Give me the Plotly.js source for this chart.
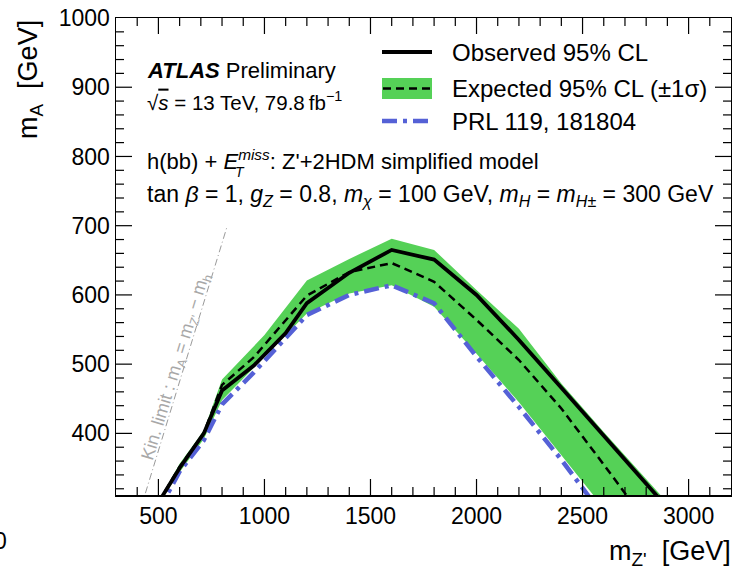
<!DOCTYPE html>
<html>
<head>
<meta charset="utf-8">
<script src="https://cdn.plot.ly/plotly-3.0.1.min.js"></script>
<style>html,body{margin:0;padding:0;background:#fff;}#chart{width:732px;height:575px;}</style>
</head>
<body>
<div id="chart"></div>
<script>
// ---- data ----
const mZ_obs = [500, 600, 714, 800, 950, 1100, 1200, 1400, 1600, 1800, 2000, 2200, 2400, 2600, 2800, 3000];
const mA_obs = [300, 350, 400, 462, 498, 545, 588, 632, 665, 651, 600, 535, 466, 397, 328, 258];

const mZ_exp = [500, 600, 714, 800, 950, 1200, 1400, 1600, 1800, 2000, 2200, 2400, 2600, 2800];
const mA_exp = [300, 352, 400, 470, 510, 599, 633, 646, 619, 564, 506, 436, 355, 272];

const mZ_up = [500, 600, 714, 800, 1000, 1200, 1400, 1600, 1800, 2000, 2200, 2400, 2600, 2800, 3000];
const mA_up = [302, 356, 404, 478, 542, 621, 652, 681, 665, 607, 551, 472, 402, 334, 266];

const mZ_lo = [500, 600, 714, 800, 1000, 1200, 1400, 1600, 1800, 2000, 2200, 2400, 2600];
const mA_lo = [298, 344, 392, 448, 510, 573, 602, 614, 583, 515, 445, 368, 292];

const mZ_prl = [500, 600, 714, 800, 950, 1200, 1400, 1600, 1800, 2000, 2200, 2400, 2600];
const mA_prl = [288, 345, 390, 442, 488, 571, 600, 614, 588, 511, 438, 362, 280];

const mZ_kin = [400, 825];
const mA_kin = [275, 700];

// axis ranges / tick spacing
const xRange = [300, 3200], yRange = [311, 1000];
const xMajor = 500, xMinor = 100, yMajor = 100, yMinor = 20;

// ---- styling ----
const FONT = 'Liberation Sans, Arial, sans-serif';
const GREEN = '#55d157';
const BLUE = '#5561d6';

// plot area in pixels: left 116, right 731, top 18, bottom 495
const L = 116, R = 731, T = 18, B = 495;
const xp = px => (px - L) / (R - L);
const yp = py => (B - py) / (B - T);
const xUPP = (xRange[1] - xRange[0]) / (R - L);   // axis units per pixel
const yUPP = (yRange[1] - yRange[0]) / (B - T);

const bandX = mZ_up.concat(mZ_lo.slice().reverse());
const bandY = mA_up.concat(mA_lo.slice().reverse());

const traces = [
  {x: bandX, y: bandY, type: 'scatter', mode: 'lines', fill: 'toself',
   fillcolor: GREEN, line: {width: 0, color: GREEN}, hoverinfo: 'skip', showlegend: false},
  {x: mZ_kin, y: mA_kin, type: 'scatter', mode: 'lines',
   line: {color: '#9a9a9a', width: 1, dash: '7px,3px,1px,3px'}, showlegend: false},
  {x: mZ_prl, y: mA_prl, type: 'scatter', mode: 'lines',
   line: {color: BLUE, width: 4.5, dash: '15px,6px,4px,6px'}, showlegend: false},
  {x: mZ_exp, y: mA_exp, type: 'scatter', mode: 'lines',
   line: {color: 'black', width: 2.5, dash: '8px,5px'}, showlegend: false},
  {x: mZ_obs, y: mA_obs, type: 'scatter', mode: 'lines',
   line: {color: 'black', width: 3.8}, showlegend: false}
];

// inward tick marks on all four sides, drawn as short line segments on the axis scales
(function addTicks() {
  const tx = [], ty = [];
  for (let v = Math.ceil(xRange[0] / xMinor) * xMinor; v < xRange[1]; v += xMinor) {
    if (v <= xRange[0]) continue;
    const len = ((v % xMajor === 0) ? 16 : 8) * yUPP;
    tx.push([v, yRange[0]], [v, yRange[0] + len], [null, null],
            [v, yRange[1]], [v, yRange[1] - len], [null, null]);
  }
  for (let v = Math.ceil(yRange[0] / yMinor) * yMinor; v < yRange[1]; v += yMinor) {
    if (v <= yRange[0]) continue;
    const len = ((v % yMajor === 0) ? 16 : 8) * xUPP;
    ty.push([xRange[0], v], [xRange[0] + len, v], [null, null],
            [xRange[1], v], [xRange[1] - len, v], [null, null]);
  }
  const all = tx.concat(ty);
  traces.push({x: all.map(p => p[0]), y: all.map(p => p[1]), type: 'scatter', mode: 'lines',
    connectgaps: false, hoverinfo: 'skip', showlegend: false,
    line: {color: 'black', width: 1.2}});
})();

function txt(text, px, py, size, opts) {
  return Object.assign({
    text: text, xref: 'paper', yref: 'paper', x: xp(px), y: yp(py),
    xanchor: 'left', yanchor: 'middle', showarrow: false,
    font: {family: FONT, size: size, color: 'black'}
  }, opts || {});
}

const annotations = [
  txt('<b><i>ATLAS</i></b> Preliminary', 145, 70, 22),
  txt('√<span style="text-decoration:overline"><i>s</i></span> = 13 TeV, 79.8\u2009fb<sup>−1</sup>', 145, 101, 20.5),
  txt('h(bb) + <i>E</i><sup><i>miss</i></sup>: Z\'+2HDM simplified model', 145, 160, 22),
  txt('<i>T</i>', 233, 172, 14),
  txt('tan <i>β</i> = 1, <i>g</i><sub><i>Z</i></sub> = 0.8, <i>m</i><sub><i>χ</i></sub> = 100 GeV, <i>m</i><sub><i>H</i></sub> = <i>m</i><sub><i>H</i>±</sub> = 300 GeV', 145, 196, 23),
  txt('Observed 95% CL', 450, 52, 24),
  txt('Expected 95% CL (±1σ)', 450, 88, 24),
  txt('PRL 119, 181804', 450, 121, 24),
  txt('Kin. limit : m<sub>A</sub> = m<sub>Z\'</sub> − m<sub>h</sub>', 176, 367, 18,
      {xanchor: 'center', textangle: -73, font: {family: FONT, size: 18, color: '#a8a8a8'}}),
  txt('m<sub>A</sub>  [GeV]', 30, 80, 27, {xanchor: 'center', textangle: -90}),
  txt('m<sub>Z\'</sub>  [GeV]', 670, 553, 27, {xanchor: 'center'}),
  txt('0', 9, 541, 23, {xanchor: 'right'})
];

// legend keys
const shapes = [
  {type: 'line', xref: 'paper', yref: 'paper', x0: xp(382), x1: xp(432), y0: yp(52), y1: yp(52),
   line: {color: 'black', width: 4}},
  {type: 'rect', xref: 'paper', yref: 'paper', x0: xp(382), x1: xp(432), y0: yp(99), y1: yp(78),
   fillcolor: GREEN, line: {width: 0}},
  {type: 'line', xref: 'paper', yref: 'paper', x0: xp(383), x1: xp(431), y0: yp(88.5), y1: yp(88.5),
   line: {color: 'black', width: 2.5, dash: '8px,5px'}},
  {type: 'line', xref: 'paper', yref: 'paper', x0: xp(382), x1: xp(432), y0: yp(121), y1: yp(121),
   line: {color: BLUE, width: 4.5, dash: '15px,6px,4px,6px'}}
];

function mainAxis(extra) {
  return Object.assign({
    showgrid: false, zeroline: false, showline: true, linecolor: 'black', linewidth: 1.5,
    mirror: true, ticks: '', tickmode: 'linear', tick0: 0,
    tickfont: {family: FONT, size: 23, color: 'black'}
  }, extra);
}

const layout = {
  width: 732, height: 575,
  margin: {l: L, r: 732 - R, t: T, b: 575 - B},
  paper_bgcolor: 'white', plot_bgcolor: 'white',
  showlegend: false,
  xaxis: mainAxis({range: xRange, dtick: xMajor}),
  yaxis: mainAxis({range: yRange, dtick: yMajor}),
  annotations: annotations,
  shapes: shapes,
  font: {family: FONT, color: 'black'}
};

Plotly.newPlot('chart', traces, layout, {staticPlot: true, displayModeBar: false});
</script>
</body>
</html>
